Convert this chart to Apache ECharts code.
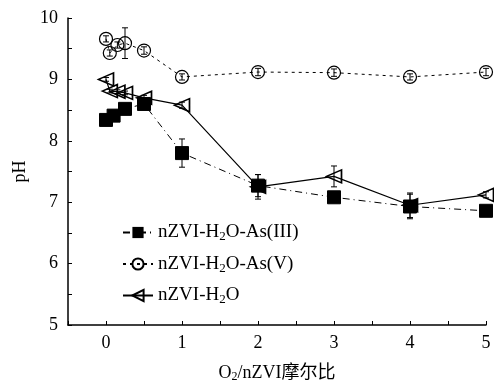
<!DOCTYPE html>
<html><head><meta charset="utf-8">
<script src="https://cdn.jsdelivr.net/npm/echarts@6/dist/echarts.min.js"></script>
<style>html,body{margin:0;padding:0;background:#fff}#c{width:494px;height:388px}</style>
</head><body><div id="c"></div>
<script>
const xAs3 = [0, 0.1, 0.25, 0.5, 1, 2, 3, 4, 5];
const pHAs3 = [8.34, 8.41, 8.52, 8.6, 7.8, 7.27, 7.08, 6.93, 6.86];
const errAs3 = [0.04, 0.04, 0.04, 0.05, 0.23, 0.18, 0.04, 0.2, 0.03];
const xAs5 = [0, 0.05, 0.15, 0.25, 0.5, 1, 2, 3, 4, 5];
const pHAs5 = [9.66, 9.43, 9.56, 9.59, 9.47, 9.04, 9.12, 9.11, 9.04, 9.12];
const errAs5 = [0.05, 0.05, 0.05, 0.25, 0.06, 0.05, 0.06, 0.06, 0.05, 0.06];
const xH2O = [0, 0.05, 0.15, 0.25, 0.5, 1, 2, 3, 4, 5];
const pHH2O = [9.0, 8.81, 8.8, 8.78, 8.7, 8.58, 7.25, 7.42, 6.95, 7.12];
const errH2O = [0.03, 0.03, 0.03, 0.03, 0.04, 0.05, 0.2, 0.17, 0.2, 0.05];
const xTicks = [0, 1, 2, 3, 4, 5];
const yTicks = [5, 6, 7, 8, 9, 10];
const names = ['nZVI-H2O-As(III)', 'nZVI-H2O-As(V)', 'nZVI-H2O'];

const FONT = '"Liberation Serif","Noto Sans CJK SC",serif';
function pts(xs, ys) { return xs.map((x, i) => [x, ys[i]]); }
function errData(xs, ys, es) { return xs.map((x, i) => [x, ys[i] - es[i], ys[i] + es[i]]); }
function errSeries(xs, ys, es) {
  return {
    type: 'custom', silent: true, z: 1,
    data: errData(xs, ys, es),
    renderItem: function (params, api) {
      const lo = api.coord([api.value(0), api.value(1)]);
      const hi = api.coord([api.value(0), api.value(2)]);
      const w = 3;
      const st = { stroke: '#000', lineWidth: 1 };
      return { type: 'group', children: [
        { type: 'line', shape: { x1: lo[0], y1: lo[1], x2: hi[0], y2: hi[1] }, style: st },
        { type: 'line', shape: { x1: lo[0] - w, y1: lo[1], x2: lo[0] + w, y2: lo[1] }, style: st },
        { type: 'line', shape: { x1: hi[0] - w, y1: hi[1], x2: hi[0] + w, y2: hi[1] }, style: st }
      ]};
    }
  };
}
const rich = {
  sub: { fontFamily: FONT, fontSize: 13, color: '#000', verticalAlign: 'bottom', padding: [9, 0, 0, 0] },
  n: { fontFamily: FONT, fontSize: 19, color: '#000' }
};
const richX = {
  sub: { fontFamily: FONT, fontSize: 12, color: '#000', verticalAlign: 'bottom', padding: [8, 0, 0, 0] },
  n: { fontFamily: FONT, fontSize: 18, color: '#000' }
};

const chart = echarts.init(document.getElementById('c'), null, { renderer: 'canvas' });
chart.setOption({
  animation: false,
  backgroundColor: '#fff',
  grid: { left: 68, top: 18, right: 8, bottom: 60, containLabel: false },
  legend: {
    left: 117, top: 218, orient: 'vertical', itemWidth: 30, itemHeight: 14, itemGap: 11,
    data: names,
    formatter: function (n) { return n.replace('H2O', '{n|H}{sub|2}{n|O}').replace(/^nZVI-/, '{n|nZVI-}').replace(/O\}(-As\(I+\)|-As\(V\))$/, 'O}{n|$1}'); },
    textStyle: { fontFamily: FONT, fontSize: 19, color: '#000', rich: rich }
  },
  xAxis: {
    type: 'value', min: -0.5, max: 5, interval: 0.5,
    name: '{n|O}{sub|2}{n|/nZVI摩尔比}', nameLocation: 'middle', nameGap: 38,
    nameTextStyle: { fontFamily: FONT, fontSize: 18, color: '#000', rich: richX },
    axisLine: { onZero: false, lineStyle: { color: '#000', width: 1.5 } },
    axisTick: { inside: true, length: 4, lineStyle: { color: '#000' } },
    axisLabel: { fontFamily: FONT, fontSize: 18, color: '#000', margin: 9,
      formatter: v => xTicks.includes(v) ? String(v) : '' },
    splitLine: { show: false }
  },
  yAxis: {
    type: 'value', min: 5, max: 10, interval: 0.5,
    name: 'pH', nameLocation: 'middle', nameGap: 34, nameRotate: 90,
    nameTextStyle: { fontFamily: FONT, fontSize: 18, color: '#000' },
    axisLine: { show: true, onZero: false, lineStyle: { color: '#000', width: 1.5 } },
    axisTick: { show: true, inside: true, length: 4, lineStyle: { color: '#000' } },
    axisLabel: { fontFamily: FONT, fontSize: 18, color: '#000', margin: 10,
      formatter: v => yTicks.includes(v) ? String(v) : '' },
    splitLine: { show: false }
  },
  series: [
    errSeries(xAs3, pHAs3, errAs3),
    errSeries(xAs5, pHAs5, errAs5),
    errSeries(xH2O, pHH2O, errH2O),
    { name: names[0], type: 'line', data: pts(xAs3, pHAs3), symbol: 'rect', symbolSize: 13,
      itemStyle: { color: '#000', borderColor: '#000' },
      lineStyle: { color: '#000', width: 1, type: [7, 4, 1, 4] }, z: 3 },
    { name: names[1], type: 'line', data: pts(xAs5, pHAs5), symbol: 'circle', symbolSize: 13,
      itemStyle: { color: 'rgba(255,255,255,0)', borderColor: '#000', borderWidth: 1.2 },
      lineStyle: { color: '#000', width: 1, type: [3, 4] }, z: 3 },
    { name: names[2], type: 'line', data: pts(xH2O, pHH2O), symbol: 'path://M0,5 L10,0 L10,10 Z', symbolSize: [15, 13],
      itemStyle: { color: 'rgba(255,255,255,0)', borderColor: '#000', borderWidth: 1.6 },
      lineStyle: { color: '#000', width: 1.2, type: 'solid' }, z: 3 }
  ]
});
</script></body></html>
